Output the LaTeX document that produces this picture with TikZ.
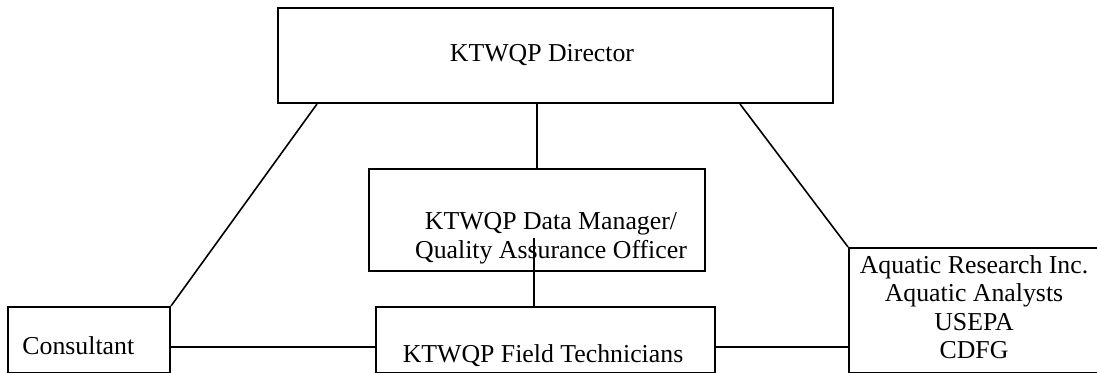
\documentclass[tikz,border=0pt]{standalone}
\usepackage{fontspec}
\setmainfont{Liberation Serif}
\usetikzlibrary{positioning}
\tikzset{block/.style={draw,line width=1pt,inner sep=0pt,anchor=north west},
         line/.style={line width=0.8pt},
         txt/.style={inner sep=0pt,align=center,font=\fontsize{12.9}{14.25}\selectfont}
}

\begin{document}
\begin{tikzpicture}[x=0.5pt,y=-0.5pt]
\useasboundingbox[fill=white] (0,0) rectangle (1097,373);

\node[block,minimum width=277.5pt,minimum height=47.5pt] (director) at (277,7) {};
\node[block,minimum width=81pt,minimum height=33.25pt] (consultant) at (7,306) {};
\node[block,minimum width=169.5pt,minimum height=33.25pt,right=102pt of consultant] (ft) {};
\node[block,minimum width=168pt,minimum height=51pt,above=17pt of ft,xshift=-4.25pt] (dm) {};
\node[block,minimum width=126pt,minimum height=62.75pt] (aquatic) at (848,247) {};

\node[txt] (directortxt) at (542,55) {KTWQP Director};
\node[txt] (dmtxt) at (551,238) {KTWQP Data Manager/\\Quality Assurance Officer};
\node[txt] (fttxt) at (543,356) {KTWQP Field Technicians};
\node[txt,anchor=west] (consultanttxt) at (22,346) {Consultant};
\node[txt] (aquatictxt) at (974,307) {Aquatic Research Inc.\\Aquatic Analysts\\USEPA\\CDFG};

\coordinate (qaend) at (534,238);
\path ([yshift=-3.5pt]ft.east) coordinate (ftr);
\draw[line] (dm.north) -- (dm.north |- director.south);
\draw[line] (qaend) -- (qaend |- ft.north);
\draw[line] ([xshift=20pt]director.south west) -- (consultant.north east);
\draw[line] ([xshift=-47pt]director.south east) -- (aquatic.north west);
\draw[line] ([yshift=-3.5pt]consultant.east) -- ([yshift=-3.5pt]ft.west);
\draw[line] (ftr) -- (ftr -| aquatic.west);

\end{tikzpicture}
\end{document}
